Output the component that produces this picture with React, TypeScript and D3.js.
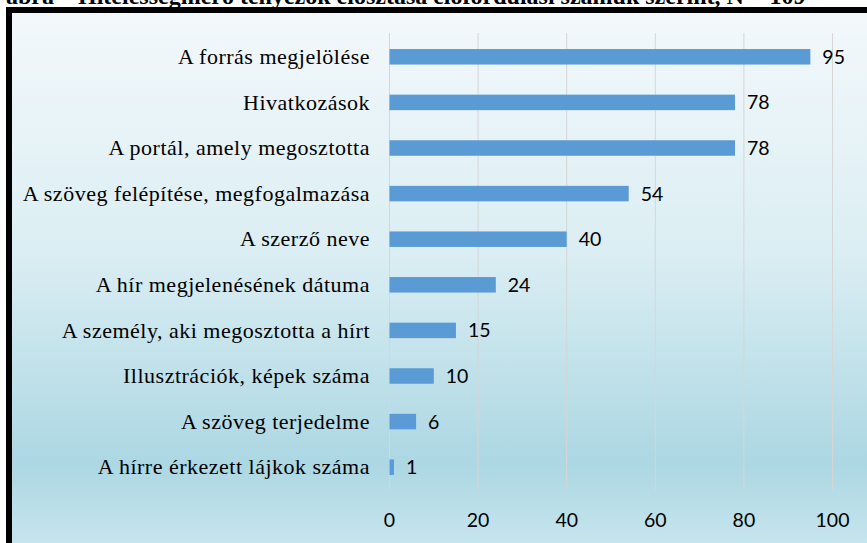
import React from "react";
import * as d3 from "d3";

const categories = [
  "A forrás megjelölése",
  "Hivatkozások",
  "A portál, amely megosztotta",
  "A szöveg felépítése, megfogalmazása",
  "A szerző neve",
  "A hír megjelenésének dátuma",
  "A személy, aki megosztotta a hírt",
  "Illusztrációk, képek száma",
  "A szöveg terjedelme",
  "A hírre érkezett lájkok száma",
];
const values = [95, 78, 78, 54, 40, 24, 15, 10, 6, 1];
const ticks = [0, 20, 40, 60, 80, 100];
const title = "ábra – Hitelességmérő tényezők elosztása előfordulási számuk szerint, N = 109";

const W = 867;
const H = 543;

export default function App() {
  const x = d3.scaleLinear().domain([0, 100]).range([389.5, 832.5]);
  const y = d3
    .scaleBand<string>()
    .domain(categories)
    .range([34, 490])
    .paddingInner(0.66)
    .paddingOuter(0.33);
  const bh = y.bandwidth();
  const sans = "Lato, 'Open Sans', sans-serif";
  const serif = "'Liberation Serif', 'Times New Roman', serif";
  return (
    <svg
      width={W}
      height={H}
      style={{ position: "absolute", left: 0, top: 0, display: "block" }}
    >
      <defs>
        <linearGradient id="bg" x1="0" y1="0" x2="0" y2="1">
          <stop offset="0%" stopColor="#f3f8fb" />
          <stop offset="45%" stopColor="#dbeef3" />
          <stop offset="85%" stopColor="#acd7e3" />
          <stop offset="100%" stopColor="#c6e5ed" />
        </linearGradient>
      </defs>
      <rect x={0} y={0} width={W} height={H} fill="#ffffff" />
      <text
        x={6}
        y={4}
        fontFamily={serif}
        fontWeight="bold"
        fontSize={24}
        fill="#000"
      >
        {title}
      </text>
      <rect x={6} y={7} width={W - 6} height={H - 7} fill="#000" />
      <rect x={12} y={13} width={W - 12} height={H - 13} fill="url(#bg)" />
      {ticks.map((t) => (
        <line
          key={"g" + t}
          x1={x(t)}
          x2={x(t)}
          y1={33}
          y2={490}
          stroke="#d6d6d6"
          strokeWidth={1}
        />
      ))}
      {categories.map((c, i) => (
        <g key={c}>
          <rect
            x={x(0)}
            y={y(c)!}
            width={x(values[i]) - x(0)}
            height={bh}
            fill="#5b9bd5"
          />
          <text
            x={x(values[i]) + 12}
            y={y(c)! + bh / 2}
            dy="0.36em"
            fontFamily={sans}
            fontSize={19.5}
            fill="#000"
          >
            {values[i]}
          </text>
          <text
            x={370}
            y={y(c)! + bh / 2}
            dy="0.33em"
            textAnchor="end"
            fontFamily={serif}
            fontSize={22}
            letterSpacing={0.5}
            fill="#000"
          >
            {c}
          </text>
        </g>
      ))}
      {ticks.map((t) => (
        <text
          key={"t" + t}
          x={x(t)}
          y={520}
          dy="0.36em"
          textAnchor="middle"
          fontFamily={sans}
          fontSize={19.5}
          fill="#000"
        >
          {t}
        </text>
      ))}
    </svg>
  );
}
